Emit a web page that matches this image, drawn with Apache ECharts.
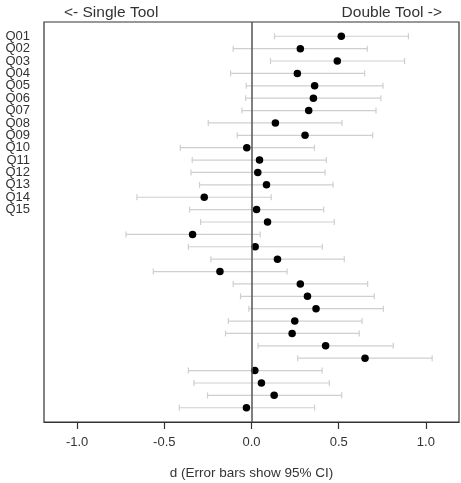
<!DOCTYPE html>
<html>
<head>
<meta charset="utf-8">
<script src="https://cdn.jsdelivr.net/npm/echarts@6/dist/echarts.min.js"></script>
<style>
  html, body { margin: 0; padding: 0; background: #fff; }
  #chart { width: 461px; height: 483px; }
</style>
</head>
<body>
<div id="chart"></div>
<script>
// effect size per row (top to bottom), with 95% CI bounds
const rowIds = Array.from({ length: 31 }, (_, i) => i + 1);
const dValues = [0.515, 0.280, 0.492, 0.263, 0.362, 0.355, 0.328, 0.137, 0.307, -0.027,
  0.046, 0.036, 0.086, -0.271, 0.029, 0.092, -0.338, 0.021, 0.149, -0.181,
  0.280, 0.321, 0.370, 0.248, 0.233, 0.425, 0.651, 0.019, 0.057, 0.130, -0.029];
const ciLow = [0.132, -0.105, 0.109, -0.120, -0.030, -0.034, -0.055, -0.248, -0.082, -0.408,
  -0.340, -0.347, -0.298, -0.657, -0.355, -0.292, -0.720, -0.362, -0.233, -0.563,
  -0.105, -0.063, -0.015, -0.133, -0.149, 0.038, 0.265, -0.362, -0.330, -0.252, -0.414];
const ciHigh = [0.900, 0.664, 0.878, 0.649, 0.754, 0.742, 0.714, 0.519, 0.695, 0.361,
  0.429, 0.422, 0.468, 0.113, 0.414, 0.475, 0.050, 0.406, 0.532, 0.204,
  0.666, 0.704, 0.756, 0.634, 0.618, 0.813, 1.036, 0.405, 0.446, 0.517, 0.362];
// only the first 15 rows carry a label in the original
const rowLabels = ['Q01', 'Q02', 'Q03', 'Q04', 'Q05', 'Q06', 'Q07', 'Q08', 'Q09', 'Q10',
  'Q11', 'Q12', 'Q13', 'Q14', 'Q15'];
const xTicks = [-1.0, -0.5, 0.0, 0.5, 1.0];

const FONT = 'Liberation Sans';
const X_MIN = -1.19;

const chart = echarts.init(document.getElementById('chart'));

const barData = rowIds.map((r, i) => [r, ciLow[i], ciHigh[i]]);
const dotData = rowIds.map((r, i) => [dValues[i], r]);

function renderBar(params, api) {
  const row = api.value(0);
  const lo = api.coord([api.value(1), row]);
  const hi = api.coord([api.value(2), row]);
  const cap = 3;
  const style = { stroke: '#cfcfcf', lineWidth: 1.2 };
  return {
    type: 'group',
    children: [
      { type: 'line', shape: { x1: lo[0], y1: lo[1], x2: hi[0], y2: hi[1] }, style },
      { type: 'line', shape: { x1: lo[0], y1: lo[1] - cap, x2: lo[0], y2: lo[1] + cap }, style },
      { type: 'line', shape: { x1: hi[0], y1: hi[1] - cap, x2: hi[0], y2: hi[1] + cap }, style },
    ],
  };
}

// row labels drawn beside the frame (axis label overlap logic drops some of them)
function renderRowLabel(params, api) {
  const p = api.coord([X_MIN, api.value(0)]);
  return {
    type: 'text',
    x: p[0] - 14,
    y: p[1],
    style: {
      text: rowLabels[params.dataIndex],
      align: 'right',
      verticalAlign: 'middle',
      fontSize: 13,
      fontFamily: FONT,
      fill: '#333',
    },
  };
}

chart.setOption({
  animation: false,
  textStyle: { fontFamily: FONT },
  grid: {
    left: 44, right: 2, top: 22, bottom: 61,
    containLabel: false,
    outerBoundsMode: 'none',
    show: true, borderColor: '#333', borderWidth: 1.2, backgroundColor: 'transparent',
  },
  xAxis: {
    type: 'value',
    position: 'bottom',
    min: X_MIN,
    max: 1.19,
    splitLine: { show: false },
    axisLine: { show: true, onZero: false, lineStyle: { color: '#333', width: 1.2 } },
    axisTick: { show: true, inside: false, length: 7, lineStyle: { color: '#333', width: 1.2 }, customValues: xTicks },
    axisLabel: {
      customValues: xTicks,
      margin: 14,
      fontSize: 13,
      color: '#333',
      fontFamily: FONT,
      formatter: (v) => v.toFixed(1),
    },
    name: 'd (Error bars show 95% CI)',
    nameLocation: 'middle',
    nameGap: 44,
    nameTextStyle: { fontSize: 13.5, color: '#333', fontFamily: FONT },
  },
  yAxis: {
    type: 'value',
    inverse: true,
    min: -0.15,
    max: 32.15,
    splitLine: { show: false },
    axisLine: { show: false, onZero: false },
    axisTick: { show: false },
    axisLabel: { show: false },
  },
  graphic: [
    { type: 'text', left: 64, top: 5, style: { text: '<- Single Tool', fontSize: 15.5, fill: '#333', fontFamily: FONT } },
    { type: 'text', right: 19, top: 5, style: { text: 'Double Tool ->', fontSize: 15.5, fill: '#333', fontFamily: FONT } },
  ],
  series: [
    {
      type: 'custom',
      renderItem: renderRowLabel,
      encode: { y: 0 },
      data: rowLabels.map((_, i) => [rowIds[i]]),
      clip: false,
      silent: true,
    },
    {
      type: 'custom',
      renderItem: renderBar,
      encode: { x: [1, 2], y: 0 },
      data: barData,
      z: 2,
    },
    {
      type: 'scatter',
      data: dotData,
      symbol: 'circle',
      symbolSize: 7.5,
      itemStyle: { color: '#000', opacity: 1 },
      z: 4,
      markLine: {
        silent: true,
        symbol: 'none',
        label: { show: false },
        lineStyle: { color: '#555', width: 1.5, type: 'solid' },
        data: [{ xAxis: 0 }],
      },
    },
  ],
});
</script>
</body>
</html>
